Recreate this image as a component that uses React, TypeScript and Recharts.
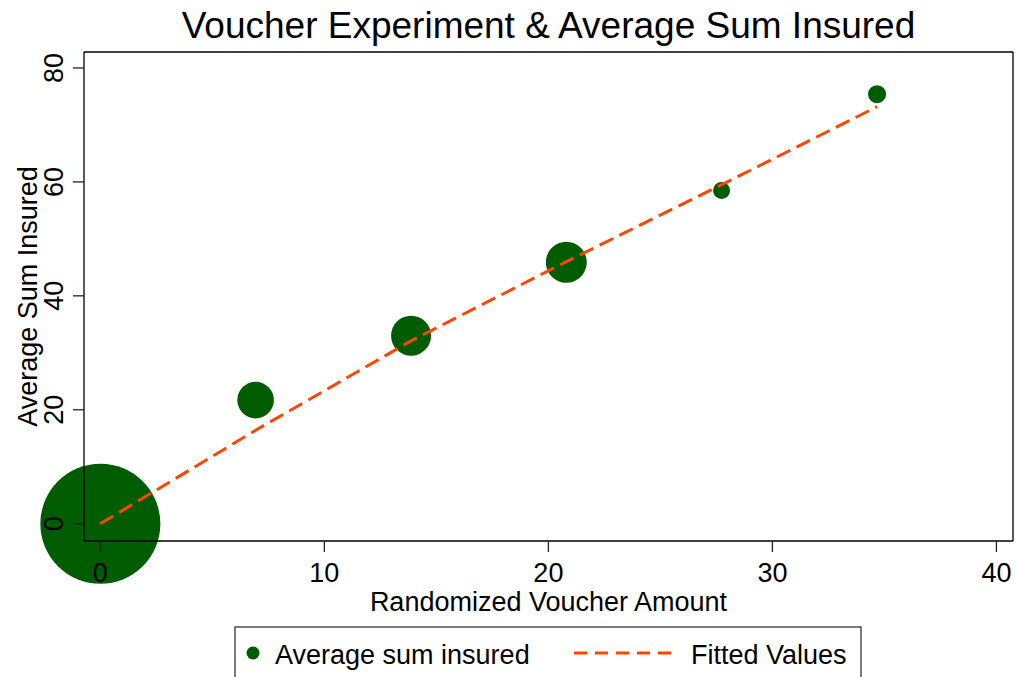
import React from 'react'
import { Label, Scatter, ScatterChart, XAxis, YAxis, ZAxis } from 'recharts'

// values
const voucherAmount = [0, 6.93, 13.87, 20.8, 27.73, 34.67]
const avgSumInsured = [0, 21.7, 33.0, 45.9, 58.5, 75.4]
const bubbleWeight = [3600, 335, 400, 420, 72, 81]
const fittedValues = [0, 16.4, 32.1, 46.0, 59.5, 73.2]

const xTicks = [0, 10, 20, 30, 40]
const yTicks = [0, 20, 40, 60, 80]

const seriesNames = ['Average sum insured', 'Fitted Values']
const title = 'Voucher Experiment & Average Sum Insured'
const xTitle = 'Randomized Voucher Amount'
const yTitle = 'Average Sum Insured'

const GREEN = '#005c00'
const ORANGE = '#ff4500'
const FONT = '"Liberation Sans", Arial, sans-serif'

const X_DOMAIN = [-0.73, 40.74]
const Y_DOMAIN = [-3.03, 82.8]

const points = voucherAmount.map((x, i) => ({ x, y: avgSumInsured[i], z: bubbleWeight[i] }))
const fitted = voucherAmount.map((x, i) => ({ x, y: fittedValues[i] }))

const YTick = (props: any) => {
  const { x, y, payload } = props
  return (
    <text transform={`translate(${x},${y}) rotate(-90)`} textAnchor="middle" fontSize={27} fill="#000">
      {payload.value}
    </text>
  )
}

const App = () => {
  return (
    <div style={{ position: 'absolute', left: 0, top: 0, width: 1017, height: 677, overflow: 'hidden', background: '#fff', fontFamily: FONT }}>
      <div style={{ position: 'absolute', left: 0, top: 7, width: 1097, textAlign: 'center', fontSize: 37, lineHeight: '37px', color: '#000' }}>
        {title}
      </div>

      <ScatterChart width={1017} height={677} margin={{ top: 51, right: 3, left: 0, bottom: 61 }} style={{ position: 'absolute', left: 0, top: 0 }}>
        <XAxis
          dataKey="x"
          type="number"
          domain={X_DOMAIN}
          ticks={xTicks}
          interval={0}
          height={75}
          tickSize={11}
          tickMargin={11}
          axisLine={{ stroke: '#000', strokeWidth: 1.3 }}
          tickLine={{ stroke: '#222', strokeWidth: 1.3 }}
          tick={{ fontSize: 27, fill: '#000' }}
        >
          <Label
            content={({ viewBox }: any) => (
              <text x={viewBox.x + viewBox.width / 2} y={viewBox.y + 70} textAnchor="middle" fontSize={27} fill="#000">
                {xTitle}
              </text>
            )}
          />
        </XAxis>
        <XAxis xAxisId="top" dataKey="x" orientation="top" type="number" domain={X_DOMAIN} height={1} tick={false} tickLine={false} axisLine={{ stroke: '#000', strokeWidth: 1.3 }} />
        <YAxis
          dataKey="y"
          type="number"
          domain={Y_DOMAIN}
          ticks={yTicks}
          interval={0}
          width={84}
          tickSize={11}
          tickMargin={10}
          axisLine={{ stroke: '#000', strokeWidth: 1.3 }}
          tickLine={{ stroke: '#222', strokeWidth: 1.3 }}
          tick={<YTick />}
        >
          <Label
            content={({ viewBox }: any) => (
              <text transform={`translate(${viewBox.x + 37},${viewBox.y + viewBox.height / 2}) rotate(-90)`} textAnchor="middle" fontSize={27} fill="#000">
                {yTitle}
              </text>
            )}
          />
        </YAxis>
        <YAxis yAxisId="right" dataKey="y" orientation="right" type="number" domain={Y_DOMAIN} width={1} tick={false} tickLine={false} axisLine={{ stroke: '#000', strokeWidth: 1.3 }} />
        <ZAxis dataKey="z" type="number" domain={[0, 3600]} range={[0, Math.PI * 3600]} />

        <Scatter name={seriesNames[0]} data={points} fill={GREEN} isAnimationActive={false} zIndex={450} />
        <Scatter
          name={seriesNames[1]}
          data={fitted}
          xAxisId="top"
          yAxisId="right"
          fill="none"
          line={{ stroke: ORANGE, strokeWidth: 3, strokeDasharray: '15 7' }}
          shape={() => <g />}
          isAnimationActive={false}
        />
      </ScatterChart>

      <svg width={1017} height={677} style={{ position: 'absolute', left: 0, top: 0, pointerEvents: 'none' }}>
        <rect x={235} y={627} width={626} height={70} fill="#fff" stroke="#333" strokeWidth={1.3} />
        <circle cx={253} cy={653} r={6.5} fill={GREEN} />
        <text x={275} y={664} fontSize={27} fill="#000" fontFamily={FONT}>{seriesNames[0]}</text>
        <line x1={574} y1={653} x2={675} y2={653} stroke={ORANGE} strokeWidth={3} strokeDasharray="13 8" />
        <text x={691} y={664} fontSize={27} fill="#000" fontFamily={FONT}>{seriesNames[1]}</text>
      </svg>
    </div>
  )
}

export default App
